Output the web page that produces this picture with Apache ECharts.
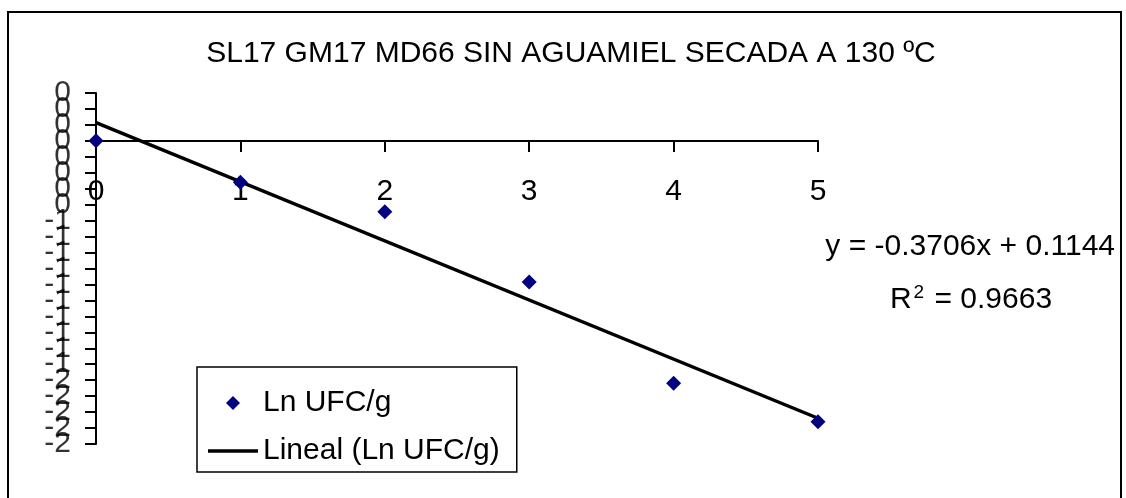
<!DOCTYPE html>
<html>
<head>
<meta charset="utf-8">
<script src="https://cdn.jsdelivr.net/npm/echarts@6/dist/echarts.min.js"></script>
<style>
  html, body { margin: 0; padding: 0; background: #fff; }
  #chart { width: 1126px; height: 498px; }
</style>
</head>
<body>
<div id="chart"></div>
<script>
// datos
var dias = [0, 1, 2, 3, 4, 5];
var lnUfc = [0, -0.26, -0.445, -0.884, -1.52, -1.76];
// linea de tendencia (extremos)
var trendX = [0, 5];
var trendY = [0.1144, -1.7386];
var ecuacion = 'y = -0.3706x + 0.1144';
var r2 = '0.9663';
var titulo = 'SL17 GM17 MD66 SIN AGUAMIEL SECADA A 130 ºC';
// marcas del eje Y (formato "0" de Excel, por eso se repiten)
var yTicks = [0.3, 0.2, 0.1, 0, -0.1, -0.2, -0.3, -0.4, -0.5, -0.6, -0.7, -0.8,
  -0.9, -1.0, -1.1, -1.2, -1.3, -1.4, -1.5, -1.6, -1.7, -1.8, -1.9];
var yTickLabels = ['0', '0', '0', '0', '0', '0', '0', '0', '-1', '-1', '-1', '-1',
  '-1', '-1', '-1', '-1', '-1', '-1', '-2', '-2', '-2', '-2', '-2'];

var FONT = "'Liberation Sans', Arial, sans-serif";

var chart = echarts.init(document.getElementById('chart'), null, { renderer: 'canvas' });

var puntos = dias.map(function (d, i) { return [d, lnUfc[i]]; });
var tendencia = trendX.map(function (d, i) { return [d, trendY[i]]; });
var marcasY = yTicks.map(function (v, i) { return { value: [0, v], etiqueta: yTickLabels[i] }; });

var option = {
  animation: false,
  backgroundColor: '#fff',
  title: {
    text: titulo,
    left: 566,
    textAlign: 'center',
    top: 34,
    textStyle: { fontFamily: FONT, fontSize: 30, fontWeight: 'normal', color: '#000' }
  },
  legend: {
    orient: 'vertical',
    left: 197,
    top: 367,
    padding: [21, 17, 6, 11],
    borderColor: '#000',
    borderWidth: 1.5,
    itemWidth: 50,
    itemHeight: 14,
    itemGap: 18,
    itemTextGap: 10,
    textStyle: { fontFamily: FONT, fontSize: 30, color: '#000' },
    data: [
      { name: 'Ln UFC/g', icon: 'path://M0,-1L1,0L0,1L-1,0Z', itemStyle: { color: '#000080', opacity: 1 } },
      { name: 'Lineal (Ln UFC/g)', icon: 'path://M0,0H50V3.5H0Z', itemStyle: { color: '#000' } }
    ]
  },
  grid: {
    left: 96,
    top: 93,
    width: 722,
    height: 351,
    outerBoundsMode: 'none',
    containLabel: false
  },
  xAxis: {
    type: 'value',
    min: 0,
    max: 5,
    interval: 1,
    position: 'bottom',
    offset: -303,
    axisLine: { onZero: false, lineStyle: { color: '#000', width: 2 } },
    axisTick: { show: true, inside: false, length: 11, lineStyle: { color: '#000', width: 2 } },
    axisLabel: { margin: 36, fontFamily: FONT, fontSize: 30, color: '#000', showMinLabel: true, showMaxLabel: true },
    splitLine: { show: false }
  },
  yAxis: {
    type: 'value',
    min: -1.9,
    max: 0.3,
    interval: 0.1,
    axisLine: { show: true, onZero: false, lineStyle: { color: '#000', width: 2 } },
    axisTick: { show: true, inside: false, length: 11, lineStyle: { color: '#000', width: 2 } },
    // ECharts oculta etiquetas solapadas; se dibujan con la serie "marcas"
    axisLabel: { show: false },
    splitLine: { show: false }
  },
  series: [
    {
      name: 'marcas',
      type: 'scatter',
      data: marcasY,
      symbolSize: 0,
      silent: true,
      label: {
        show: true,
        position: 'left',
        distance: 25,
        fontFamily: FONT,
        fontSize: 30,
        color: '#000',
        formatter: function (p) { return p.data.etiqueta; }
      },
      labelLayout: { hideOverlap: false },
      z: 1
    },
    {
      name: 'Lineal (Ln UFC/g)',
      type: 'line',
      data: tendencia,
      symbol: 'none',
      lineStyle: { color: '#000', width: 3.5 },
      itemStyle: { color: '#000' },
      z: 2
    },
    {
      name: 'Ln UFC/g',
      type: 'scatter',
      data: puntos,
      symbol: 'diamond',
      symbolSize: 15,
      itemStyle: { color: '#000080', opacity: 1 },
      z: 3
    }
  ],
  graphic: [
    {
      type: 'rect',
      shape: { x: 8, y: 12, width: 1113, height: 500 },
      style: { fill: 'none', stroke: '#000', lineWidth: 2 },
      silent: true
    },
    {
      type: 'text',
      x: 1115,
      y: 247,
      style: {
        text: ecuacion,
        align: 'right',
        verticalAlign: 'middle',
        font: '30px ' + FONT,
        fill: '#000'
      }
    },
    {
      type: 'text',
      x: 971,
      y: 299,
      style: {
        text: '{r|R}{s|2}{r| = ' + r2 + '}',
        align: 'center',
        verticalAlign: 'middle',
        fill: '#000',
        rich: {
          r: { fontFamily: FONT, fontSize: 30, fill: '#000', verticalAlign: 'bottom' },
          s: { fontFamily: FONT, fontSize: 19, fill: '#000', verticalAlign: 'top', padding: [0, 2, 12, 2] }
        }
      }
    }
  ]
};

chart.setOption(option);
</script>
</body>
</html>
